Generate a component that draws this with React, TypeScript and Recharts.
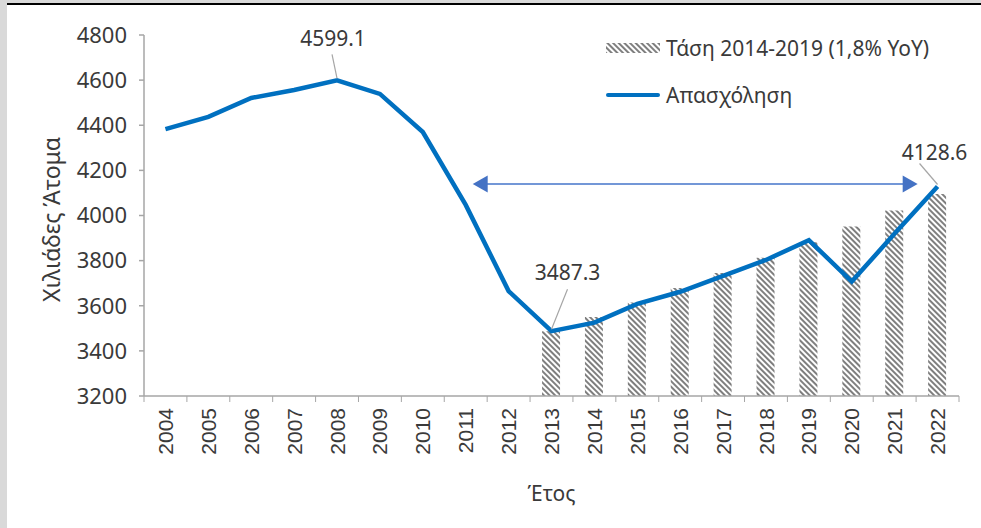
import { ComposedChart, Bar, Line, XAxis, YAxis, Legend, LabelList, Label, ReferenceLine } from 'recharts';

const years = ['2004', '2005', '2006', '2007', '2008', '2009', '2010', '2011', '2012', '2013', '2014', '2015', '2016', '2017', '2018', '2019', '2020', '2021', '2022'];
const employment = [4383, 4437, 4521, 4556, 4599.1, 4539, 4370, 4047, 3665, 3487.3, 3525, 3608, 3662, 3732, 3803, 3891, 3707, 3920, 4128.6];
const trend = [null, null, null, null, null, null, null, null, null, 3487.3, 3550, 3614, 3679, 3745, 3813, 3881, 3951, 4022, 4095];
const yTicks = [3200, 3400, 3600, 3800, 4000, 4200, 4400, 4600, 4800];

const TREND_NAME = 'Τάση 2014-2019 (1,8% YoY)';
const EMP_NAME = 'Απασχόληση';
const LABELLED = ['2008', '2013', '2022'];
const ARROW_Y = 4140;

const data = years.map((year, i) => ({ year, emp: employment[i], trend: trend[i] }));

const W = 981;
const H = 528;
const M = { top: 35, right: 22, bottom: 52, left: 44 };
const Y_AXIS_W = 100;
const PLOT_L = M.left + Y_AXIS_W;
const PLOT_R = W - M.right;
const PLOT_B = 396;
const BAND = (PLOT_R - PLOT_L) / years.length;

const FONT = '"Noto Sans", sans-serif';
const TEXT = '#3a3a3a';
const AXIS = '#a6a6a6';
const BLUE = '#0070C0';

function YearTick(props: any) {
  const { x, payload, index } = props;
  const left = x - BAND / 2;
  return (
    <g>
      <line x1={left} y1={PLOT_B} x2={left} y2={PLOT_B + 6} stroke={AXIS} />
      {index === years.length - 1 && (
        <line x1={left + BAND} y1={PLOT_B} x2={left + BAND} y2={PLOT_B + 6} stroke={AXIS} />
      )}
      <text
        transform={`translate(${x},${PLOT_B + 12}) rotate(-90)`}
        textAnchor="end"
        dy="0.36em"
        fill={TEXT}
        fontSize={21}
        fontFamily='"Liberation Sans", Arial, sans-serif'
      >
        {payload.value}
      </text>
    </g>
  );
}

// label offsets per point: text centre and leader line, relative to the point
const labelPos: Record<string, { tx: number; ty: number; lx1: number; ly1: number }> = {
  '2008': { tx: -4, ty: -42, lx1: -5, ly1: -26 },
  '2013': { tx: 16, ty: -59, lx1: 16, ly1: -42 },
  '2022': { tx: -3, ty: -34, lx1: -18, ly1: -23 },
};

function PointLabel(props: any) {
  const { x, y, value, index } = props;
  const p = labelPos[years[index]];
  if (!p || !LABELLED.includes(years[index])) return null;
  return (
    <g>
      <line x1={x + p.lx1} y1={y + p.ly1} x2={x} y2={y - 2} stroke={AXIS} strokeWidth={1.2} />
      <text x={x + p.tx} y={y + p.ty} dy="0.36em" textAnchor="middle" fill={TEXT} fontSize={21} fontFamily={FONT}>
        {Number(value).toFixed(1)}
      </text>
    </g>
  );
}

function Arrow(props: any) {
  const { x1, x2, y1 } = props;
  const a = x1 + 7;
  const b = x2 + 23;
  return (
    <g>
      <line x1={a + 12} y1={y1} x2={b - 12} y2={y1} stroke="#7397D7" strokeWidth={2} />
      <polygon points={`${a},${y1} ${a + 15},${y1 - 8.5} ${a + 15},${y1 + 8.5}`} fill="#4472C4" />
      <polygon points={`${b},${y1} ${b - 15},${y1 - 8.5} ${b - 15},${y1 + 8.5}`} fill="#4472C4" />
    </g>
  );
}

function LegendBox() {
  const row = { display: 'flex', alignItems: 'center', height: 26, marginBottom: 21 } as const;
  return (
    <div style={{ fontFamily: FONT, fontSize: 21, color: TEXT, lineHeight: '26px' }}>
      <div style={row}>
        <svg width={54} height={10} style={{ marginRight: 6 }}>
          <defs>
            <pattern id="hatchLegend" width={4} height={4} patternUnits="userSpaceOnUse" patternTransform="rotate(-45)">
              <rect width={2} height={4} fill="#7f7f7f" />
            </pattern>
          </defs>
          <rect width={54} height={10} fill="url(#hatchLegend)" />
        </svg>
        <span>{TREND_NAME}</span>
      </div>
      <div style={row}>
        <svg width={54} height={10} style={{ marginRight: 6 }}>
          <line x1={2} y1={5} x2={52} y2={5} stroke={BLUE} strokeWidth={4} strokeLinecap="round" />
        </svg>
        <span>{EMP_NAME}</span>
      </div>
    </div>
  );
}

export default function App() {
  return (
    <div style={{ position: 'absolute', left: 0, top: 0, width: W, height: H, background: '#fff', overflow: 'hidden' }}>
      <div style={{ position: 'absolute', left: 0, top: 0, width: W, height: 4, background: '#d9d9d9' }} />
      <div style={{ position: 'absolute', left: 0, top: 3, width: W, height: 2, background: '#000' }} />
      <div style={{ position: 'absolute', left: 0, top: 0, width: 7, height: H, background: '#d9d9d9' }} />
      <ComposedChart width={W} height={H} data={data} margin={M}>
        <defs>
          <pattern id="hatch" width={4} height={4} patternUnits="userSpaceOnUse" patternTransform="rotate(-45)">
            <rect width={4} height={4} fill="#fff" />
            <rect width={2} height={4} fill="#7f7f7f" />
          </pattern>
        </defs>
        <XAxis
          dataKey="year"
          interval={0}
          height={80}
          tickLine={false}
          axisLine={{ stroke: AXIS, strokeWidth: 1.5 }}
          tick={<YearTick />}
        >
          <Label
            content={() => (
              <text x={(PLOT_L + PLOT_R) / 2} y={493} dy="0.36em" textAnchor="middle" fill={TEXT} fontSize={21} fontFamily={FONT}>
                Έτος
              </text>
            )}
          />
        </XAxis>
        <YAxis
          width={Y_AXIS_W}
          domain={[3200, 4800]}
          ticks={yTicks}
          interval={0}
          tickSize={5}
          tickMargin={12}
          axisLine={{ stroke: AXIS, strokeWidth: 1.5 }}
          tickLine={{ stroke: AXIS, strokeWidth: 1.5 }}
          tick={{ fill: TEXT, fontSize: 22, fontFamily: FONT }}
        >
          <Label
            content={() => (
              <text transform={`translate(52,${(M.top + PLOT_B) / 2 + 4}) rotate(-90)`} textAnchor="middle" dy="0.36em" fill={TEXT} fontSize={23} fontFamily={FONT}>
                Χιλιάδες Άτομα
              </text>
            )}
          />
        </YAxis>
        <Legend
          layout="vertical"
          align="center"
          verticalAlign="middle"
          content={() => <LegendBox />}
          wrapperStyle={{ position: 'absolute', left: 606, top: 35, width: 370 }}
        />
        <Bar dataKey="trend" name={TREND_NAME} fill="url(#hatch)" barSize={18} isAnimationActive={false} />
        <Line
          dataKey="emp"
          name={EMP_NAME}
          type="linear"
          stroke={BLUE}
          strokeWidth={4.5}
          dot={false}
          activeDot={false}
          isAnimationActive={false}
        >
          <LabelList dataKey="emp" content={<PointLabel />} />
        </Line>
        <ReferenceLine
          segment={[{ x: '2011', y: ARROW_Y }, { x: '2021', y: ARROW_Y }]}
          shape={<Arrow />}
        />
      </ComposedChart>
    </div>
  );
}
